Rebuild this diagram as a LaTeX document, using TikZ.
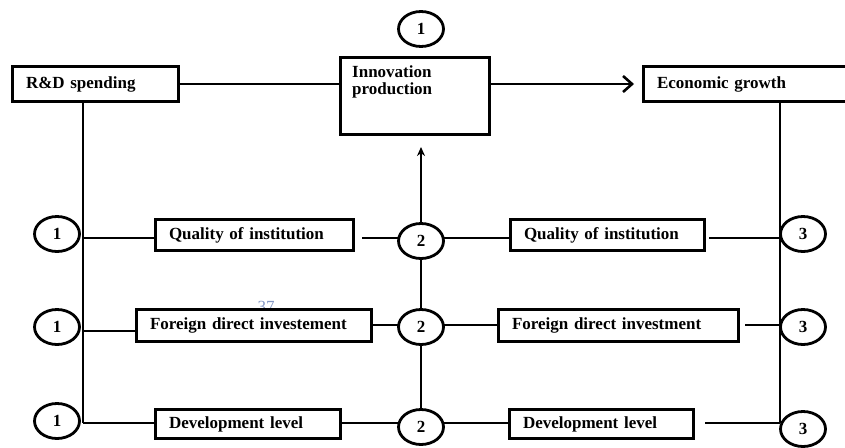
\documentclass[tikz,border=0pt]{standalone}
\usepackage{fontspec}
\setmainfont{Liberation Serif}
\usetikzlibrary{shapes.geometric,arrows.meta,backgrounds}
\definecolor{pgnum}{RGB}{130,150,195}
\begin{document}
\begin{tikzpicture}[x=1pt,y=-1pt,
  every node/.style={font=\fontsize{17}{17}\selectfont\bfseries},
  box/.style={draw, line width=3pt, fill=white, inner xsep=13.5pt, inner ysep=0pt, align=left, text height=12pt, text depth=4pt},
  circ/.style={ellipse, draw, line width=2.8pt, fill=white, minimum width=45pt, minimum height=35pt, inner sep=0pt},
  conn/.style={line width=2pt},
  spine/.style={line width=2.2pt},
  mainline/.style={line width=2.6pt}]
\useasboundingbox (0,0) rectangle (845,447);

% top row
\node[box, minimum height=35pt, text width=139pt] (rd) at (95.5,84) {R\&D spending};
\node[box, minimum width=149pt, minimum height=77pt] (ip) at (415,96) {};
\node[anchor=north west, align=left, inner sep=0pt] (iptext) at (352,66) {Innovation\\production};
\node[box, minimum height=35pt, text width=179pt] (eg) at (746.5,84) {Economic growth};
\node[circ] (c0) at (421,29) {1};

% stray page number
\node[text=pgnum, font=\fontsize{17}{17}\selectfont] (pg) at (266,307) {37};

% left boxes
\node[box, minimum height=31pt, text width=171pt] (qa) at (254.5,235) {Quality of institution};
\node[box, minimum height=32pt, text width=208pt] (fa) at (254,325.5) {Foreign direct investement};
\node[box, minimum height=29pt, text width=158pt] (da) at (248,424) {Development level};
% right boxes
\node[box, minimum height=31pt, text width=167pt] (qb) at (607.5,235) {Quality of institution};
\node[box, minimum height=32pt, text width=213pt] (fb) at (618.5,325.5) {Foreign direct investment};
\node[box, minimum height=29pt, text width=157pt] (db) at (601.5,424) {Development level};

% circles
\node[circ] (c1a) at (57,234) {1};
\node[circ] (c1b) at (57,327) {1};
\node[circ] (c1c) at (57,421) {1};
\node[circ] (c2a) at (421,241) {2};
\node[circ] (c2b) at (421,327) {2};
\node[circ] (c2c) at (421,427) {2};
\node[circ] (c3a) at (803,234) {3};
\node[circ] (c3b) at (803,327) {3};
\node[circ] (c3c) at (803,429) {3};

\coordinate (L1) at (83,238);
\coordinate (L2) at (83,331);
\coordinate (L3) at (83,423);
\coordinate (R1) at (780,238);
\coordinate (R2) at (780,325);
\coordinate (R3) at (780,423);
\coordinate (tip) at (421,147);

\begin{scope}[on background layer]
\draw[mainline] (rd.east) -- (rd.east -| ip.west);
\draw[mainline, -{Straight Barb[length=9pt,width=16pt]}, shorten >=8pt] (ip.east |- eg.west) -- (eg.west);
\draw[spine] (L3 |- rd.south) -- (L3);
\draw[spine] (R3 |- eg.south) -- (R3);
\draw[spine] (c2c.center) -- (c2a.center);
\draw[spine, -{Stealth[length=9pt,width=8pt]}] (c2a.center) -- (tip);
% row 1
\draw[conn] (L1) -- (L1 -| qa.west);
\draw[conn, shorten <=7pt] (qa.east |- L1) -- (c2a.center |- L1);
\draw[conn] (c2a.center |- R1) -- (R1 -| qb.west);
\draw[conn, shorten <=3pt] (qb.east |- R1) -- (R1);
% row 2
\draw[conn] (L2) -- (L2 -| fa.west);
\draw[conn] (fa.east |- R2) -- (c2b.center |- R2);
\draw[conn] (c2b.center |- R2) -- (R2 -| fb.west);
\draw[conn, shorten <=5pt] (fb.east |- R2) -- (R2);
% row 3
\draw[conn] (L3) -- (L3 -| da.west);
\draw[conn] (da.east |- L3) -- (c2c.center |- L3);
\draw[conn] (c2c.center |- R3) -- (R3 -| db.west);
\draw[conn, shorten <=10pt] (db.east |- R3) -- (R3);
\end{scope}
\end{tikzpicture}
\end{document}
